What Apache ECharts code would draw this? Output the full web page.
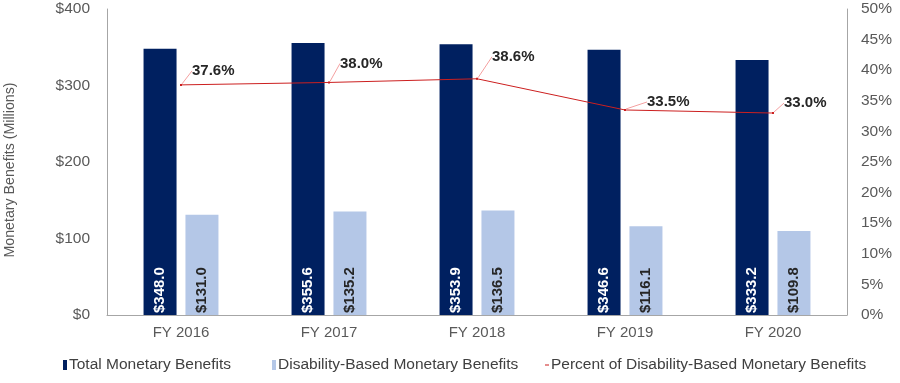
<!DOCTYPE html>
<html>
<head>
<meta charset="utf-8">
<script src="https://cdn.jsdelivr.net/npm/echarts@6/dist/echarts.min.js"></script>
<style>html,body{margin:0;padding:0;background:#fff}#c{width:900px;height:383px}</style>
</head>
<body>
<div id="c"></div>
<script>
const categories = ['FY 2016', 'FY 2017', 'FY 2018', 'FY 2019', 'FY 2020'];
const totalBenefits = [348.0, 355.6, 353.9, 346.6, 333.2];
const disabilityBenefits = [131.0, 135.2, 136.5, 116.1, 109.8];
const percentDisability = [37.6, 38.0, 38.6, 33.5, 33.0];
const leftTicks = [0, 100, 200, 300, 400];
const rightTicks = [0, 5, 10, 15, 20, 25, 30, 35, 40, 45, 50];
const yAxisTitle = 'Monetary Benefits (Millions)';

// label offsets (layout only) for the percent labels
const pctLabelDx = [10, 10, 14, 21, 10];
const pctLabelDy = [-14, -19, -22, -8, -10];

const font = 'Liberation Sans, Arial, sans-serif';
const names = ['Total Monetary Benefits', 'Disability-Based Monetary Benefits', 'Percent of Disability-Based Monetary Benefits'];
const dashIcon = 'path://M0,0 L0.01,0 L0.01,0.01 Z M0,4.4 L4,4.4 L4,5.6 L0,5.6 Z M0,9.99 L0.01,9.99 L0.01,10 Z';

function legendAt(left, name, icon, color) {
  return {
    left: left, top: 352, orient: 'horizontal',
    itemWidth: 4, itemHeight: 10,
    textStyle: { fontFamily: font, fontSize: 15.5, color: '#404040', padding: [0, 0, 0, -3] },
    data: [{ name: name, icon: icon, itemStyle: color ? { color: color } : undefined }]
  };
}

const chart = echarts.init(document.getElementById('c'));
chart.setOption({
  animation: false,
  textStyle: { fontFamily: font },
  grid: { left: 107, right: 53, top: 9, bottom: 68, containLabel: false, outerBoundsMode: 'none' },
  graphic: [{
    type: 'text', x: 10, y: 170, rotation: Math.PI / 2,
    style: { text: yAxisTitle, fontSize: 14.2, fontFamily: font, fill: '#595959', align: 'center', verticalAlign: 'middle' }
  }],
  legend: [
    legendAt(58, names[0], 'rect'),
    legendAt(267, names[1], 'rect'),
    legendAt(540, names[2], dashIcon, '#CC1F1F')
  ],
  xAxis: {
    type: 'category', data: categories,
    axisLine: { lineStyle: { color: '#A6A6A6' } },
    axisTick: { show: false },
    axisLabel: { fontSize: 15, color: '#595959', margin: 10, fontFamily: font }
  },
  yAxis: [
    {
      type: 'value', min: leftTicks[0], max: leftTicks[leftTicks.length - 1], interval: 100,
      axisLine: { show: true, lineStyle: { color: '#A6A6A6' } },
      axisTick: { show: false },
      splitLine: { show: false },
      axisLabel: { fontSize: 15.5, color: '#595959', margin: 17, formatter: v => '$' + v, fontFamily: font }
    },
    {
      type: 'value', min: rightTicks[0], max: rightTicks[rightTicks.length - 1], interval: 5,
      axisLine: { show: true, lineStyle: { color: '#A6A6A6' } },
      axisTick: { show: false },
      splitLine: { show: false },
      axisLabel: { fontSize: 15.5, color: '#595959', margin: 14, formatter: v => v + '%', fontFamily: font }
    }
  ],
  series: [
    {
      name: names[0], type: 'bar', data: totalBenefits,
      barWidth: 33, barGap: '27%',
      itemStyle: { color: '#002060' },
      label: {
        show: true, position: 'insideBottom', rotate: 90, align: 'left', verticalAlign: 'middle',
        distance: 2, color: '#fff', fontSize: 15, fontWeight: 'bold', fontFamily: font,
        formatter: p => '$' + p.value.toFixed(1)
      }
    },
    {
      name: names[1], type: 'bar', data: disabilityBenefits,
      barWidth: 33,
      itemStyle: { color: '#B4C7E7' },
      label: {
        show: true, position: 'insideBottom', rotate: 90, align: 'left', verticalAlign: 'middle',
        distance: 2, color: '#262626', fontSize: 15, fontWeight: 'bold', fontFamily: font,
        formatter: p => '$' + p.value.toFixed(1)
      }
    },
    {
      name: names[2], type: 'line', yAxisIndex: 1,
      data: percentDisability,
      symbol: 'rect', symbolSize: 2,
      lineStyle: { color: '#CC1F1F', width: 1 },
      itemStyle: { color: '#CC1F1F' },
      label: {
        show: true, position: 'right', distance: 0, color: '#262626', fontSize: 15, fontWeight: 'bold', fontFamily: font,
        formatter: p => p.value.toFixed(1) + '%'
      },
      labelLayout: p => ({ dx: pctLabelDx[p.dataIndex], dy: pctLabelDy[p.dataIndex] }),
      labelLine: { show: true, length2: 0, lineStyle: { color: '#F4A0A0', width: 1 } }
    }
  ]
});
</script>
</body>
</html>
